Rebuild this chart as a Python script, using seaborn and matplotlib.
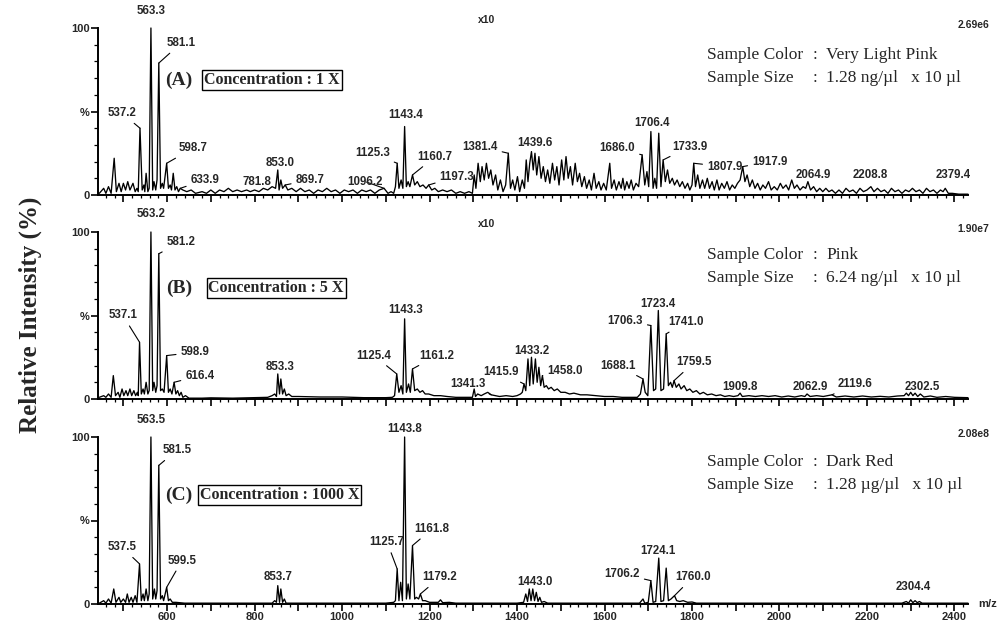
import matplotlib
matplotlib.use("Agg")
import matplotlib.pyplot as plt
from matplotlib.ticker import MultipleLocator, FuncFormatter
import numpy as np
import pandas as pd
import seaborn as sns

# ---------------- data (m/z, relative intensity %) ----------------
A_MZ = [445, 455, 460, 466, 472, 479, 484, 490, 495, 500, 505, 510, 515, 522, 527, 531, 534, 538, 543, 547, 549, 552, 556, 559,
        563, 567, 570, 574, 577, 581, 585, 589, 592, 599, 603, 607, 610, 614, 618, 622, 626, 630, 636, 645, 655, 665, 680, 690,
        700, 710, 720, 730, 740, 750, 760, 770, 782, 790, 800, 810, 820, 830, 840, 848, 853, 856, 860, 864, 870, 876, 885, 895,
        905, 915, 925, 935, 945, 955, 965, 975, 985, 995, 1005, 1015, 1025, 1035, 1045, 1055, 1065, 1075, 1085, 1096, 1105,
        1112, 1118, 1122, 1126, 1130, 1135, 1139, 1143, 1147, 1151, 1155, 1161, 1166, 1172, 1178, 1185, 1192, 1198, 1205,
        1212, 1220, 1230, 1240, 1250, 1260, 1270, 1280, 1290, 1298, 1302, 1306, 1311, 1316, 1320, 1325, 1330, 1335, 1340,
        1345, 1351, 1356, 1362, 1368, 1374, 1380, 1385, 1390, 1395, 1401, 1406, 1412, 1417, 1421, 1425, 1429, 1433, 1437,
        1441, 1445, 1450, 1455, 1460, 1465, 1470, 1475, 1481, 1486, 1491, 1496, 1502, 1507, 1512, 1517, 1522, 1527, 1533,
        1538, 1543, 1548, 1554, 1559, 1565, 1570, 1576, 1581, 1587, 1592, 1598, 1604, 1612, 1616, 1622, 1627, 1633, 1638,
        1642, 1646, 1651, 1656, 1661, 1666, 1672, 1678, 1686, 1692, 1697, 1701, 1706, 1711, 1715, 1719, 1724, 1729, 1734,
        1739, 1744, 1749, 1755, 1760, 1766, 1772, 1778, 1784, 1790, 1795, 1800, 1804, 1808, 1813, 1818, 1824, 1829, 1835,
        1840, 1846, 1851, 1857, 1862, 1868, 1874, 1880, 1886, 1892, 1898, 1904, 1910, 1916, 1921, 1926, 1932, 1938, 1944,
        1950, 1956, 1962, 1968, 1975, 1981, 1988, 1995, 2002, 2008, 2015, 2021, 2028, 2034, 2040, 2047, 2054, 2060, 2065,
        2071, 2078, 2085, 2092, 2099, 2106, 2113, 2120, 2128, 2136, 2144, 2152, 2160, 2168, 2176, 2184, 2192, 2200, 2209,
        2216, 2224, 2232, 2240, 2248, 2256, 2264, 2272, 2280, 2288, 2296, 2304, 2312, 2320, 2328, 2336, 2344, 2352, 2360,
        2368, 2374, 2379, 2386, 2395, 2410, 2431]
A_INT = [1, 4, 1, 5, 1, 22, 2, 7, 2, 7, 3, 8, 3, 7, 2, 4, 2, 40, 3, 6, 2, 13, 2, 4,
         100, 3, 8, 3, 9, 79, 4, 7, 4, 19, 4, 6, 3, 13, 3, 5, 2, 4, 3, 2, 3, 1, 2, 1,
         3, 1, 3, 2, 4, 2, 3, 2, 3, 2, 3, 2, 4, 3, 5, 4, 15, 3, 9, 4, 6, 3, 4, 2,
         4, 2, 3, 1, 3, 2, 4, 2, 3, 1, 3, 2, 3, 1, 3, 2, 3, 1, 3, 4, 1,
         2, 1, 5, 19, 4, 9, 4, 41, 5, 8, 5, 12, 6, 8, 5, 6, 4, 6, 3,
         4, 2, 3, 2, 3, 1, 2, 1, 2, 1, 12, 4, 19, 8, 17, 9, 19, 10, 15,
         6, 12, 3, 9, 2, 6, 25, 4, 9, 3, 11, 2, 9, 4, 21, 8, 19, 26, 15,
         25, 12, 23, 10, 17, 8, 15, 7, 19, 9, 17, 6, 21, 9, 23, 10, 17, 6, 19,
         8, 13, 5, 11, 4, 9, 3, 13, 4, 8, 3, 7, 3, 19, 4, 9, 3, 8, 4,
         10, 3, 8, 4, 9, 3, 7, 5, 24, 6, 14, 5, 38, 4, 10, 4, 37, 5, 21,
         8, 15, 7, 10, 6, 9, 5, 8, 4, 7, 3, 6, 19, 5, 12, 4, 9, 4, 10,
         4, 8, 3, 9, 3, 7, 4, 8, 3, 6, 4, 7, 9, 17, 8, 12, 5, 9, 4,
         7, 3, 6, 4, 8, 3, 5, 3, 7, 4, 6, 3, 9, 4, 6, 3, 5, 4, 8,
         3, 5, 2, 4, 2, 4, 2, 3, 1, 3, 1, 4, 2, 3, 1, 4, 2, 3, 5,
         2, 4, 2, 3, 1, 4, 2, 3, 1, 3, 2, 4, 2, 3, 1, 4, 2, 3, 1,
         3, 2, 4, 1, 1, 0.5, 0.5]

B_MZ = [445, 455, 460, 466, 472, 477, 482, 488, 492, 497, 501, 506, 510, 515, 519, 524, 528, 532, 534, 537, 541, 545, 548, 552,
        556, 559, 563, 567, 570, 574, 577, 581, 585, 589, 593, 599, 603, 607, 611, 616, 620, 624, 628, 632, 636, 642, 650, 680,
        700, 750, 800, 830, 840, 846, 850, 853, 857, 860, 864, 868, 872, 878, 885, 900, 950, 1000, 1050, 1100, 1115, 1120,
        1125, 1130, 1135, 1139, 1143, 1147, 1152, 1156, 1161, 1166, 1172, 1178, 1184, 1190, 1198, 1210, 1225, 1240, 1260,
        1280, 1298, 1302, 1305, 1310, 1318, 1325, 1333, 1341, 1350, 1360, 1375, 1390, 1400, 1408, 1412, 1416, 1420, 1425,
        1429, 1433, 1437, 1442, 1446, 1450, 1454, 1458, 1462, 1467, 1472, 1478, 1485, 1492, 1500, 1510, 1520, 1530, 1545,
        1560, 1580, 1600, 1620, 1640, 1660, 1675, 1682, 1688, 1693, 1699, 1706, 1712, 1717, 1723, 1729, 1735, 1741, 1746,
        1751, 1755, 1759, 1764, 1770, 1775, 1782, 1788, 1795, 1802, 1810, 1818, 1826, 1835, 1845, 1855, 1865, 1875, 1885,
        1895, 1905, 1910, 1915, 1930, 1945, 1960, 1975, 1990, 2005, 2020, 2035, 2050, 2058, 2063, 2070, 2085, 2100, 2110,
        2120, 2130, 2150, 2170, 2190, 2210, 2230, 2250, 2270, 2285, 2290, 2295, 2300, 2305, 2310, 2316, 2322, 2330, 2345,
        2360, 2380, 2400, 2431]
B_INT = [1, 2, 1, 3, 1, 14, 2, 4, 1, 6, 2, 5, 2, 6, 2, 5, 2, 4, 2, 34, 3, 6, 3, 10,
         3, 5, 100, 5, 10, 4, 8, 87, 5, 6, 4, 26, 4, 6, 3, 10, 3, 5, 2, 4, 1, 2, 0.5, 0.5,
         0.7, 0.5, 0.8, 1, 2, 3, 1.5, 15, 3, 12, 3, 6, 2, 3, 1.5, 1.5, 1.2, 1.2, 0.8, 0.8, 1, 2,
         15, 4, 8, 3, 48, 4, 9, 4, 18, 5, 6, 4, 5, 3, 3, 2, 2, 1.5, 1,
         1, 1, 6, 1.5, 3, 2, 3, 4, 2.5, 2, 1.5, 2, 1.5, 2, 3, 4, 9, 5, 24,
         8, 25, 9, 24, 10, 19, 8, 14, 7, 8, 6, 7, 5, 6, 4, 4, 3, 3.5, 2.5,
         2.5, 2, 1.5, 1.5, 1, 1, 1, 3, 12, 4, 2, 44, 5, 6, 53, 5, 6, 39, 8,
         10, 7, 11, 7, 9, 6, 8, 5, 6, 4, 5, 3, 4, 2.5, 3, 2, 2.5, 1.5, 2,
         1.5, 2, 3.5, 1.5, 2, 1.5, 2, 1.5, 2, 1.2, 1.8, 1.2, 2, 1.5, 3, 1.5, 2, 1.5, 2,
         2.5, 1.2, 1.8, 1.2, 1.8, 1.2, 1.6, 1.2, 1.8, 2, 3.5, 2, 4, 2, 3.5, 1.5, 3, 1.2, 1.8,
         1, 1.5, 1, 0.8]

C_MZ = [445, 455, 460, 466, 472, 478, 483, 490, 494, 500, 505, 509, 513, 518, 522, 527, 531, 537, 541, 545, 548, 552, 556, 559,
        563, 567, 571, 574, 577, 581, 585, 589, 592, 599, 603, 607, 612, 620, 640, 700, 800, 840, 846, 850, 853, 857, 860,
        864, 868, 872, 900, 1000, 1100, 1118, 1122, 1126, 1130, 1134, 1138, 1143, 1147, 1151, 1155, 1161, 1166, 1170, 1175,
        1179, 1184, 1190, 1200, 1210, 1220, 1225, 1230, 1245, 1260, 1400, 1415, 1420, 1424, 1428, 1432, 1436, 1440, 1444,
        1448, 1452, 1456, 1462, 1470, 1600, 1680, 1688, 1692, 1700, 1706, 1711, 1717, 1724, 1729, 1735, 1741, 1746, 1752,
        1760, 1765, 1772, 1780, 1790, 1800, 1810, 2000, 2280, 2290, 2295, 2300, 2305, 2310, 2315, 2320, 2326, 2431]
C_INT = [0.5, 2, 0.5, 3, 0.5, 9, 1, 4, 1, 3, 1, 6, 1, 4, 1, 5, 1, 24, 2, 6, 2, 9, 2, 6,
         100, 3, 9, 3, 8, 83, 3, 5, 2, 10, 2, 3, 1, 1, 0.5, 0.5, 0.5, 0.5, 2, 1, 11, 1, 9,
         1, 3, 0.5, 0.5, 0.5, 0.5, 1, 2, 21, 2, 13, 2, 100, 3, 12, 3, 35, 3, 4, 3,
         6, 2, 2, 1, 1, 1, 2.5, 0.8, 1, 0.5, 0.5, 1, 6, 1.5, 9, 2, 9, 2, 7,
         1.5, 4, 1, 1.5, 0.5, 0.5, 0.5, 3, 0.5, 1, 14, 1, 1.5, 27.5, 1.5, 2, 21.5, 2, 3,
         5, 2, 1.5, 2, 1, 1.2, 0.5, 0.5, 0.5, 1.5, 0.5, 2.5, 0.8, 2, 0.8, 1.5, 0.5, 0.5]

# peak labels: text, peak m/z, peak intensity
A_PEAKS = [("563.3", 563, 100), ("581.1", 581, 79), ("537.2", 538, 40), ("598.7", 599, 19), ("633.9", 630, 4),
           ("781.8", 782, 3), ("853.0", 853, 15), ("869.7", 870, 6), ("1096.2", 1096, 4), ("1125.3", 1126, 19),
           ("1143.4", 1143, 41), ("1160.7", 1161, 12), ("1197.3", 1198, 6), ("1381.4", 1380, 25), ("1439.6", 1441, 25),
           ("1686.0", 1686, 24), ("1706.4", 1706, 38), ("1733.9", 1734, 21), ("1807.9", 1804, 19), ("1917.9", 1916, 17),
           ("2064.9", 2065, 8), ("2208.8", 2209, 5), ("2379.4", 2379, 4)]
B_PEAKS = [("563.2", 563, 100), ("581.2", 581, 87), ("537.1", 537, 34), ("598.9", 599, 26), ("616.4", 616, 10),
           ("853.3", 853, 15), ("1125.4", 1125, 15), ("1143.3", 1143, 48), ("1161.2", 1161, 18), ("1341.3", 1341, 2.5),
           ("1415.9", 1416, 9), ("1433.2", 1433, 25), ("1458.0", 1458, 14), ("1688.1", 1688, 12), ("1706.3", 1706, 44),
           ("1723.4", 1723, 53), ("1741.0", 1741, 39), ("1759.5", 1759, 11), ("1909.8", 1910, 3.5), ("2062.9", 2063, 3),
           ("2119.6", 2120, 2.5), ("2302.5", 2300, 4)]
C_PEAKS = [("563.5", 563, 100), ("581.5", 581, 83), ("537.5", 537, 24), ("599.5", 599, 10), ("853.7", 853, 11),
           ("1125.7", 1126, 21), ("1143.8", 1143, 100), ("1161.8", 1161, 35), ("1179.2", 1179, 6), ("1443.0", 1436, 9),
           ("1706.2", 1706, 14), ("1724.1", 1724, 27.5), ("1760.0", 1760, 5), ("2304.4", 2300, 2.5)]

SCALES = ["2.69e6", "1.90e7", "2.08e8"]
PANEL_TAGS = ["(A)", "(B)", "(C)"]
CONCENTRATIONS = ["Concentration : 1 X", "Concentration : 5 X", "Concentration : 1000 X"]
COLORS = ["Very Light Pink", "Pink", "Dark Red"]
SIZES = ["1.28 ng/\u00b5l   x 10 \u00b5l", "6.24 ng/\u00b5l   x 10 \u00b5l", "1.28 \u00b5g/\u00b5l   x 10 \u00b5l"]
MAGNIFY = ["x10", "x10", None]

# ---------------- layout (label positions: m/z, %, leader line) ----------------
A_LAB_POS = [(563, 110, 0), (632, 91, 1), (497, 49, 1), (659, 28, 1), (687, 9, 1), (806, 8, 0), (858, 19, 0),
             (927, 9, 1), (1053, 8, 1), (1069, 25, 1), (1146, 48, 0), (1213, 23, 1), (1263, 11, 1), (1315, 29, 1),
             (1441, 31, 0), (1629, 28, 1), (1709, 43, 0), (1795, 29, 1), (1875, 17, 1), (1978, 20, 1),
             (2077, 12, 0), (2207, 12, 0), (2398, 12, 0)]
B_LAB_POS = [(563, 111, 0), (632, 94, 1), (499, 50, 1), (664, 28, 1), (675, 14, 1), (858, 19, 0), (1073, 26, 1),
             (1146, 53, 0), (1217, 26, 1), (1288, 9, 1), (1363, 16, 1), (1434, 29, 0), (1510, 17, 1), (1631, 20, 1),
             (1647, 47, 1), (1722, 57, 0), (1786, 46, 1), (1805, 22, 1), (1910, 7, 0), (2070, 7, 0), (2173, 9, 1),
             (2326, 7, 0)]
C_LAB_POS = [(563, 110, 0), (622, 92, 1), (497, 34, 1), (634, 26, 1), (853, 16, 0), (1103, 37, 1), (1143, 105, 0),
             (1206, 45, 1), (1224, 16, 1), (1441, 13, 0), (1640, 18, 1), (1722, 32, 0), (1802, 16, 1), (2305, 10, 0)]

W, H = 1007, 623
PANELS_PX = [(28, 195), (232, 399), (437, 604)]
SAMPLE_Y = [(0.838, 0.701), (0.862, 0.725), (0.85, 0.713)]
TAG_Y = [0.689, 0.665, 0.653]
BOX_X = [0.122, 0.127, 0.117]

sns.set_theme(style="ticks")
plt.rcParams["font.family"] = ["Liberation Sans", "DejaVu Sans"]

fig = plt.figure(figsize=(W / 100, H / 100), dpi=100)

spectra = [(A_MZ, A_INT, A_PEAKS, A_LAB_POS), (B_MZ, B_INT, B_PEAKS, B_LAB_POS), (C_MZ, C_INT, C_PEAKS, C_LAB_POS)]
lab_font = dict(fontsize=8.3, fontweight="bold", family="Liberation Sans")
serif = "Liberation Serif"

for i, ((mz, inten, peaks, labpos), (top, bot)) in enumerate(zip(spectra, PANELS_PX)):
    ax = fig.add_axes([98 / W, (H - bot) / H, 870 / W, (bot - top) / H])
    df = pd.DataFrame({"mz": mz, "intensity": inten})
    sns.lineplot(data=df, x="mz", y="intensity", ax=ax, color="black", lw=0.95,
                 sort=False, estimator=None)
    for ln in ax.lines:
        ln.set_clip_on(False)
    ax.set_xlim(442, 2431)
    ax.set_ylim(0, 100)
    ax.set_xlabel("")
    ax.set_ylabel("")
    for s in ["top", "right"]:
        ax.spines[s].set_visible(False)
    for s in ["left", "bottom"]:
        ax.spines[s].set_linewidth(1.4)
        ax.spines[s].set_color("black")
    ax.xaxis.set_major_locator(MultipleLocator(100))
    ax.xaxis.set_minor_locator(MultipleLocator(20))
    ax.tick_params(axis="x", which="major", length=5, width=1.2, color="black", direction="out")
    ax.tick_params(axis="x", which="minor", length=2.5, width=0.9, color="black", direction="out")
    ax.set_yticks([0, 50, 100])
    ax.set_yticklabels(["0", "%", "100"])
    ax.yaxis.set_minor_locator(MultipleLocator(10))
    ax.tick_params(axis="y", which="major", length=5, width=1.2, color="black", pad=1,
                   labelsize=8, direction="out")
    ax.tick_params(axis="y", which="minor", length=3, width=0.9, color="black", direction="out")
    for t in ax.get_yticklabels():
        t.set_fontweight("bold")
    if i < 2:
        ax.tick_params(axis="x", labelbottom=False)
    else:
        ax.xaxis.set_major_formatter(FuncFormatter(lambda v, p: f"{int(v)}" if int(v) % 200 == 0 else ""))
        ax.tick_params(axis="x", which="major", labelsize=8, pad=0.5)
        for t in ax.get_xticklabels():
            t.set_fontweight("bold")
        ax.text(1.012, 0.0, "m/z", transform=ax.transAxes, ha="left", va="center", fontsize=8, fontweight="bold")

    # peak labels
    for (txt, pmz, ph), (lx, ly, lead) in zip(peaks, labpos):
        if lead:
            ax.annotate(txt, xy=(pmz, ph), xytext=(lx, ly), ha="center", va="center",
                        arrowprops=dict(arrowstyle="-", lw=0.8, color="black", shrinkA=1, shrinkB=0),
                        annotation_clip=False, **lab_font)
        else:
            ax.text(lx, ly, txt, ha="center", va="center", clip_on=False, **lab_font)

    ax.text(1.025, 1.02, SCALES[i], transform=ax.transAxes, ha="right", va="center",
            fontsize=7.5, fontweight="bold")
    if MAGNIFY[i]:
        ax.text(0.447, 1.045, MAGNIFY[i], transform=ax.transAxes, ha="center", va="center",
                fontsize=7.5, fontweight="bold")

    ax.text(0.093, TAG_Y[i], PANEL_TAGS[i], transform=ax.transAxes, ha="center", va="center",
            fontsize=14, fontweight="bold", family=serif)
    ax.text(BOX_X[i], TAG_Y[i], CONCENTRATIONS[i], transform=ax.transAxes, ha="left", va="center",
            fontsize=11.5, fontweight="bold", family=serif,
            bbox=dict(boxstyle="square,pad=0.12", fc="white", ec="black", lw=1.0))

    y1, y2 = SAMPLE_Y[i]
    for yy, key, val in [(y1, "Sample Color", COLORS[i]), (y2, "Sample Size", SIZES[i])]:
        ax.text(0.700, yy, key, transform=ax.transAxes, ha="left", va="center", fontsize=12.5, family=serif)
        ax.text(0.821, yy, ":", transform=ax.transAxes, ha="left", va="center", fontsize=12.5, family=serif)
        ax.text(0.837, yy, val, transform=ax.transAxes, ha="left", va="center", fontsize=12.5, family=serif)

fig.text(30 / W, 1 - 315 / H, "Relative Intensity (%)", rotation=90, ha="center", va="center",
         fontsize=18, fontweight="bold", family=serif)

fig.savefig("out.png", dpi=100, facecolor="white")
